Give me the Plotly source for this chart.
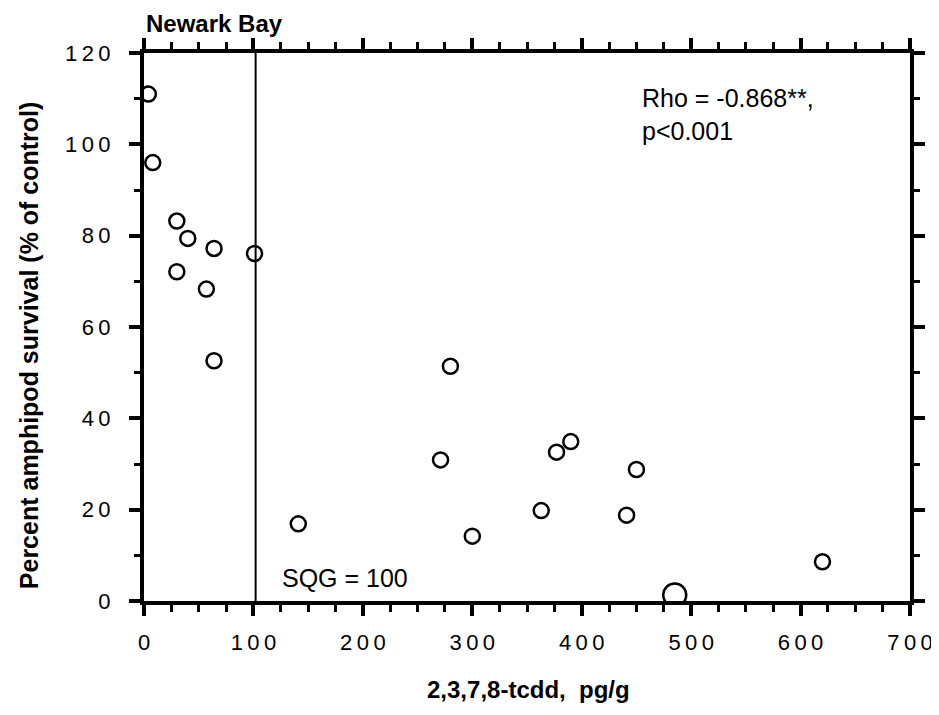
import plotly.graph_objects as go

# Data
tcdd = [4, 8, 30, 40, 64, 101, 30, 57, 64, 141, 280, 271, 377, 390, 450, 363, 441, 300, 620]
survival = [111, 96, 83.2, 79.4, 77.2, 76.1, 72.1, 68.3, 52.6, 16.9, 51.4, 30.9, 32.6, 34.9, 28.8, 19.8, 18.8, 14.2, 8.6]
# overlapping samples (drawn as a larger circle)
tcdd_overlap = [485]
survival_overlap = [1.3]

sqg = 102
x_ticks = [0, 100, 200, 300, 400, 500, 600, 700]
y_ticks = [0, 20, 40, 60, 80, 100, 120]

def spaced(v):
    return "\u2009".join(str(v))

FONT = "Liberation Sans, Arial, sans-serif"

fig = go.Figure()
fig.add_trace(go.Scatter(
    x=tcdd, y=survival, mode="markers",
    marker=dict(symbol="circle-open", size=15, color="black", line=dict(width=2.5)),
    showlegend=False,
))
fig.add_trace(go.Scatter(
    x=tcdd_overlap, y=survival_overlap, mode="markers",
    marker=dict(symbol="circle-open", size=23, color="black", line=dict(width=2.5)),
    showlegend=False,
))

fig.add_shape(type="line", x0=sqg, x1=sqg, y0=0, y1=120, xref="x", yref="y",
              line=dict(color="black", width=2))

axis_common = dict(
    showline=True, linecolor="black", linewidth=4, mirror="allticks",
    ticks="outside", ticklen=11, tickwidth=4, tickcolor="black",
    showgrid=False, zeroline=False,
    tickfont=dict(family=FONT, size=22, color="black"),
)

fig.update_xaxes(range=[0, 700], tickmode="array", tickvals=x_ticks, ticktext=[spaced(v) for v in x_ticks],
                 minor=dict(tickmode="linear", tick0=0, dtick=25, ticks="outside", ticklen=7, tickwidth=3, tickcolor="black"),
                 ticklabelstandoff=8, **axis_common)
fig.update_yaxes(range=[0, 120], tickmode="array", tickvals=y_ticks, ticktext=[spaced(v) for v in y_ticks],
                 minor=dict(tickmode="linear", tick0=0, dtick=10, ticks="outside", ticklen=6, tickwidth=3, tickcolor="black"),
                 ticklabelstandoff=14, **axis_common)

annotations = [
    dict(text="<b>Newark Bay</b>", xref="paper", yref="paper", x=0.0, y=1.054,
         xanchor="left", yanchor="middle", showarrow=False,
         font=dict(family=FONT, size=24, color="black")),
    dict(text="<b>Percent amphipod survival (% of control)</b>", xref="paper", yref="paper",
         x=-0.150, y=0.467, textangle=-90, xanchor="center", yanchor="middle", showarrow=False,
         font=dict(family=FONT, size=25, color="black")),
    dict(text="<b>2,3,7,8-tcdd,  pg/g</b>", xref="paper", yref="paper",
         x=0.502, y=-0.162, xanchor="center", yanchor="middle", showarrow=False,
         font=dict(family=FONT, size=24, color="black")),
    dict(text="Rho = -0.868**,<br>p<0.001", xref="x", yref="y", x=453, y=113.7,
         xanchor="left", yanchor="top", align="left", showarrow=False,
         font=dict(family=FONT, size=25, color="black")),
    dict(text="SQG = 100", xref="x", yref="y", x=124, y=1.5,
         xanchor="left", yanchor="bottom", showarrow=False,
         font=dict(family=FONT, size=25, color="black")),
]

fig.update_layout(
    width=939, height=715,
    margin=dict(l=135.5, r=37, t=44.5, b=122, pad=0),
    plot_bgcolor="white", paper_bgcolor="white",
    annotations=annotations,
)

fig.write_html("out.html")
